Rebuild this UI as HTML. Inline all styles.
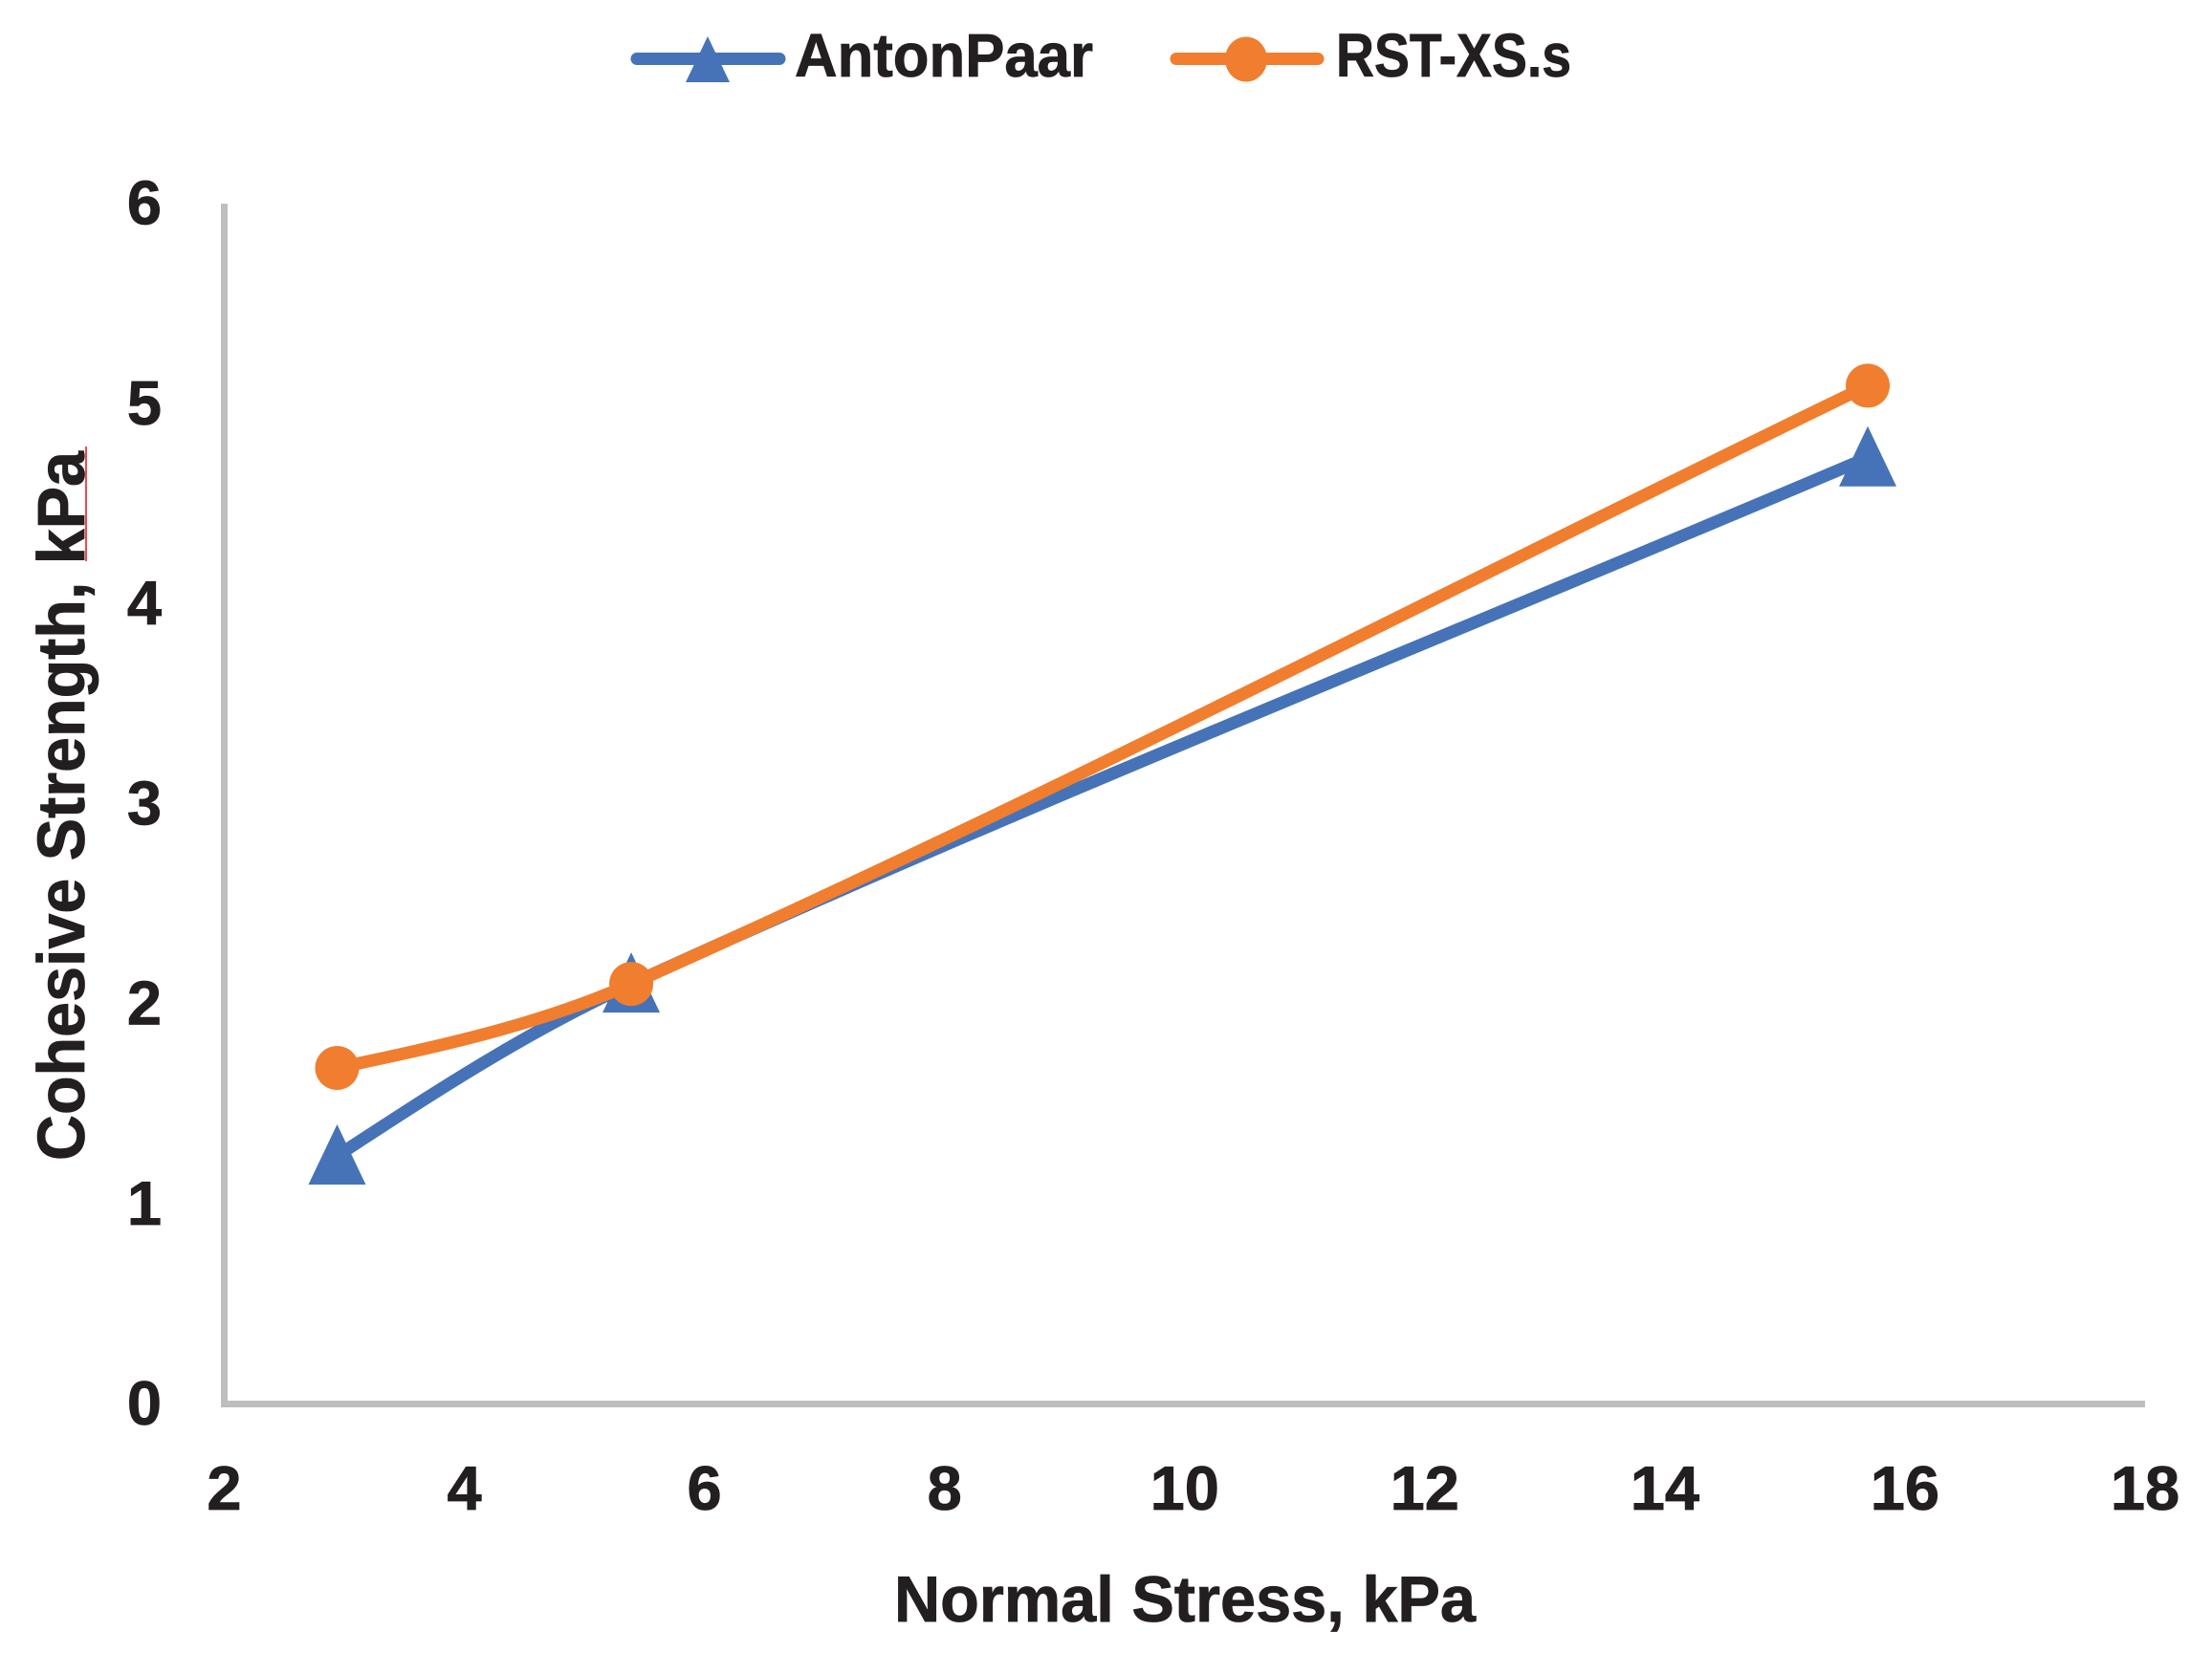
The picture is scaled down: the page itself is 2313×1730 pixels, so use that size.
<!DOCTYPE html>
<html>
<head>
<meta charset="utf-8">
<title>Cohesive Strength vs Normal Stress</title>
<style>
html,body{margin:0;padding:0;background:#fff;}
svg{display:block;}
text{font-family:"Liberation Sans",sans-serif;font-weight:700;fill:#231f20;stroke:#231f20;stroke-width:0.8px;}
</style>
</head>
<body>
<svg id="chart" xmlns="http://www.w3.org/2000/svg" width="2313" height="1730" viewBox="0 0 2313 1730">
  <rect x="0" y="0" width="2313" height="1730" fill="#ffffff"/>
  <g>
    <g>
      <line x1="666" y1="61.5" x2="815" y2="61.5" stroke="#4673b7" stroke-width="13" stroke-linecap="round"/>
      <polygon points="740,38 763,86 717,86" fill="#4673b7"/>
      <text x="831" y="80" font-size="64" textLength="312" lengthAdjust="spacingAndGlyphs">AntonPaar</text>
    </g>
    <g>
      <line x1="1230" y1="61.5" x2="1378" y2="61.5" stroke="#f07e2e" stroke-width="13" stroke-linecap="round"/>
      <ellipse cx="1303" cy="62" rx="22" ry="23.5" fill="#f07e2e"/>
      <text x="1397" y="80" font-size="64" textLength="246" lengthAdjust="spacingAndGlyphs">RST-XS.s</text>
    </g>
  </g>
  <g id="axes"></g>
  <g id="series"></g>
  <text x="935" y="1696" font-size="68" textLength="608" lengthAdjust="spacingAndGlyphs">Normal Stress, kPa</text>
  <text transform="translate(88,1214) rotate(-90)" x="0" y="0" font-size="70" textLength="742" lengthAdjust="spacingAndGlyphs">Cohesive Strength, kPa</text>
  <line x1="90" y1="467" x2="90" y2="587" stroke="#ed1c24" stroke-width="1.6"/>
</svg>
<script>
const xTicks = [2, 4, 6, 8, 10, 12, 14, 16, 18];
const yTicks = [0, 1, 2, 3, 4, 5, 6];
const normalStress = [2.94, 5.39, 15.69];
const antonPaar = [1.24, 2.1, 4.73];
const rstXs = [1.68, 2.1, 5.09];

const NS = 'http://www.w3.org/2000/svg';
const xMin = xTicks[0], xMax = xTicks[xTicks.length - 1];
const yMin = yTicks[0], yMax = yTicks[yTicks.length - 1];
const plot = { left: 234.5, right: 2243, top: 213, bottom: 1468.5 };
function xScale(v) { return plot.left + (v - xMin) / (xMax - xMin) * (plot.right - plot.left); }
function yScale(v) { return plot.bottom - (v - yMin) / (yMax - yMin) * (plot.bottom - plot.top); }
function make(tag, attrs, parent) {
  const el = document.createElementNS(NS, tag);
  for (const k in attrs) el.setAttribute(k, attrs[k]);
  parent.appendChild(el);
  return el;
}
const axes = document.getElementById('axes');
const seriesGroup = document.getElementById('series');

const yAxis = make('line', { x1: plot.left, y1: plot.top, x2: plot.left, y2: plot.bottom + 3.5, stroke: '#bfbebf', 'stroke-width': 7 }, axes);


const xAxis = make('line', { x1: plot.left, y1: plot.bottom, x2: plot.right, y2: plot.bottom, stroke: '#bfbebf', 'stroke-width': 7 }, axes);



xTicks.forEach(function (t) {
  const el = make('text', { x: xScale(t), y: 1579, 'font-size': 65, 'text-anchor': 'middle' }, axes);
  el.textContent = String(t);
  
  
});
yTicks.forEach(function (t) {
  const el = make('text', { x: 151, y: yScale(t) + 21.5, 'font-size': 65, 'text-anchor': 'middle' }, axes);
  el.textContent = String(t);
  
  
});

function smoothPath(pts) {
  const n = pts.length;
  const tan = [];
  for (let i = 0; i < n; i++) {
    if (i > 0 && i < n - 1) {
      const dx = pts[i + 1][0] - pts[i - 1][0], dy = pts[i + 1][1] - pts[i - 1][1];
      const len = Math.hypot(dx, dy) || 1;
      tan[i] = [dx / len, dy / len];
    }
  }
  function chord(i) { return Math.hypot(pts[i + 1][0] - pts[i][0], pts[i + 1][1] - pts[i][1]); }
  let d = 'M' + pts[0][0] + ' ' + pts[0][1];
  for (let i = 0; i < n - 1; i++) {
    const h = chord(i) / 3;
    const a = pts[i], b = pts[i + 1];
    let c1, c2;
    if (tan[i + 1]) {
      c2 = [b[0] - tan[i + 1][0] * h, b[1] - tan[i + 1][1] * h];
    } else {
      c2 = [b[0] - (b[0] - a[0]) / 3, b[1] - (b[1] - a[1]) / 3];
    }
    if (tan[i]) {
      c1 = [a[0] + tan[i][0] * h, a[1] + tan[i][1] * h];
    } else {
      c1 = [a[0] + (c2[0] - a[0]) * 0.5, a[1] + (c2[1] - a[1]) * 0.5];
    }
    d += ' C' + c1[0] + ' ' + c1[1] + ' ' + c2[0] + ' ' + c2[1] + ' ' + b[0] + ' ' + b[1];
  }
  return d;
}

function points(values) {
  return values.map(function (v, i) { return [xScale(normalStress[i]), yScale(v)]; });
}

const bluePts = points(antonPaar);
const blueLine = make('path', { d: smoothPath(bluePts), fill: 'none', stroke: '#4673b7', 'stroke-width': 13 }, seriesGroup);


bluePts.forEach(function (p) {
  const tri = make('polygon', {
    points: (p[0]) + ',' + (p[1] - 33) + ' ' + (p[0] + 30) + ',' + (p[1] + 30) + ' ' + (p[0] - 30) + ',' + (p[1] + 30),
    fill: '#4673b7'
  }, seriesGroup);
  
  
});

const orangePts = points(rstXs);
const orangeLine = make('path', { d: smoothPath(orangePts), fill: 'none', stroke: '#f07e2e', 'stroke-width': 13 }, seriesGroup);


orangePts.forEach(function (p) {
  const dot = make('circle', { cx: p[0], cy: p[1], r: 23, fill: '#f07e2e' }, seriesGroup);
  
  
});
</script>
</body>
</html>
